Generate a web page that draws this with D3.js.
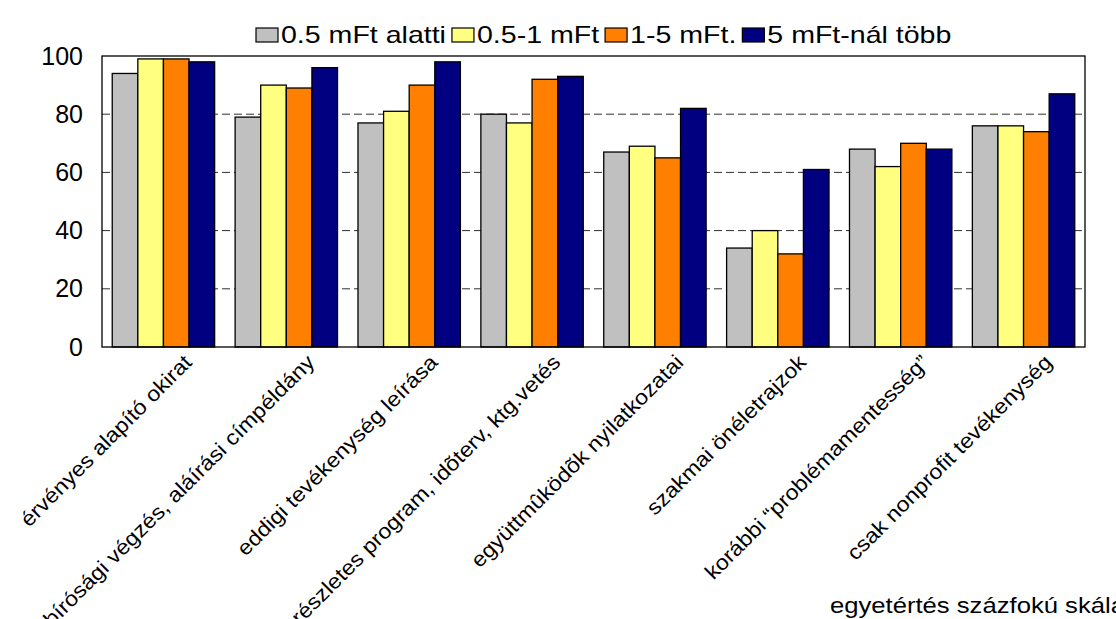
<!DOCTYPE html>
<html>
<head>
<meta charset="utf-8">
<script src="https://cdn.jsdelivr.net/npm/d3@7"></script>
<style>
  html, body { margin: 0; padding: 0; background: #fff; }
  svg { display: block; font-family: "Liberation Sans", Arial, sans-serif; }
</style>
</head>
<body>
<svg id="chart" width="1116" height="619"></svg>
<script>
const categories = [
  "érvényes alapító okirat",
  "bírósági végzés, aláírási címpéldány",
  "eddigi tevékenység leírása",
  "részletes program, idõterv, ktg.vetés",
  "együttmûködõk nyilatkozatai",
  "szakmai önéletrajzok",
  "korábbi “problémamentesség”",
  "csak nonprofit tevékenység"
];
const seriesNames = ["0.5 mFt alatti", "0.5-1 mFt", "1-5 mFt.", "5 mFt-nál több"];
const seriesColors = ["#C0C0C0", "#FFFF80", "#FF8000", "#000080"];
const s1 = [94, 79, 77, 80, 67, 34, 68, 76];
const s2 = [99, 90, 81, 77, 69, 40, 62, 76];
const s3 = [99, 89, 90, 92, 65, 32, 70, 74];
const s4 = [98, 96, 98, 93, 82, 61, 68, 87];
const yTicks = [0, 20, 40, 60, 80, 100];
const gridValues = [20, 40, 60, 80];
const footnote = "egyetértés százfokú skála";

const seriesValues = [s1, s2, s3, s4];
const svg = d3.select("#chart");
const M = { left: 102, right: 1085, top: 56, bottom: 347 };

const x0 = d3.scaleBand().domain(categories).range([M.left, M.right]).padding(0);
const x1 = d3.scaleBand().domain(d3.range(seriesNames.length))
  .range([0, x0.bandwidth()]).paddingInner(0).paddingOuter(0.4);
const y = d3.scaleLinear().domain([0, 100]).range([M.bottom, M.top]);

// gridlines
svg.append("g").selectAll("line").data(gridValues).join("line")
  .attr("x1", M.left).attr("x2", M.right)
  .attr("y1", d => y(d)).attr("y2", d => y(d))
  .attr("stroke", "#303030").attr("stroke-width", 1)
  .attr("stroke-dasharray", "8,4");

// bars
const groups = svg.append("g").selectAll("g").data(categories).join("g")
  .attr("transform", c => `translate(${x0(c)},0)`);
groups.selectAll("rect")
  .data((c, i) => seriesValues.map((vals, si) => ({ si, v: vals[i] })))
  .join("rect")
  .attr("x", d => x1(d.si))
  .attr("width", x1.bandwidth())
  .attr("y", d => y(d.v))
  .attr("height", d => y(0) - y(d.v))
  .attr("fill", d => seriesColors[d.si])
  .attr("stroke", "#000").attr("stroke-width", 1.3);

// frame
svg.append("rect")
  .attr("x", M.left).attr("y", M.top)
  .attr("width", M.right - M.left).attr("height", M.bottom - M.top)
  .attr("fill", "none").attr("stroke", "#000").attr("stroke-width", 1.3);

// y axis labels
const yAxis = d3.axisLeft(y).tickValues(yTicks).tickSize(0).tickPadding(19);
const ya = svg.append("g").attr("transform", `translate(${M.left},0)`).call(yAxis);
ya.select(".domain").remove();
ya.selectAll("text").attr("font-size", 25).attr("fill", "#000")
  .attr("font-family", "'Liberation Sans', Arial, sans-serif");

// category labels
svg.append("g").selectAll("text").data(categories).join("text")
  .attr("transform", c => `translate(${x0(c) + x0.bandwidth() / 2 + 19},${M.bottom + 6}) rotate(-45) scale(1.1,1)`)
  .attr("text-anchor", "end")
  .attr("dy", "0.72em")
  .attr("font-size", 21)
  .attr("fill", "#000")
  .text(c => c);

// legend
const legend = svg.append("g");
let lx = 256;
seriesNames.forEach((name, i) => {
  legend.append("rect")
    .attr("x", lx).attr("y", 28).attr("width", 22).attr("height", 14)
    .attr("fill", seriesColors[i]).attr("stroke", "#000").attr("stroke-width", 1.2);
  const t = legend.append("text")
    .attr("transform", `translate(${lx + 25},43) scale(1.19,1)`)
    .attr("font-size", 24).attr("fill", "#000")
    .text(name);
  const w = t.node().getComputedTextLength() * 1.19;
  lx += 25 + w + 6;
});

// footnote
svg.append("text")
  .attr("transform", "translate(830,613) scale(1.14,1)")
  .attr("font-size", 22.5).attr("fill", "#000")
  .text(footnote);
</script>
</body>
</html>
